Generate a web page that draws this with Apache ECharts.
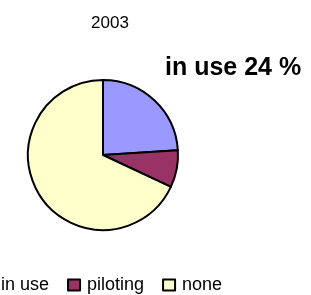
<!DOCTYPE html>
<html>
<head>
<meta charset="utf-8">
<script src="https://cdn.jsdelivr.net/npm/echarts@6/dist/echarts.min.js"></script>
<style>
  html, body { margin: 0; padding: 0; background: #fff; }
  #chart { width: 311px; height: 295px; }
</style>
</head>
<body>
<div id="chart"></div>
<script>
// 数据
var categories = ['in use', 'piloting', 'none'];
var shares = [24, 8, 68];
var colors = ['#9999FF', '#993366', '#FFFFCC'];
var year = '2003';

var myChart = echarts.init(document.getElementById('chart'));

var pieData = [];
for (var i = 0; i < categories.length; i++) {
    pieData.push({ name: categories[i], value: shares[i], itemStyle: { color: colors[i] } });
}

var option = {
    animation: false,
    title: [
        {
            text: year,
            left: 105,
            top: 10,
            textAlign: 'center',
            textStyle: { fontFamily: 'Liberation Sans', fontSize: 17, fontWeight: 'normal', color: '#000' }
        },
        {
            text: categories[0] + ' ' + shares[0] + ' %',
            left: 165,
            top: 56,
            padding: 0,
            textStyle: { fontFamily: 'Liberation Sans', fontSize: 25, fontWeight: 'bold', color: '#000' }
        }
    ],
    legend: {
        data: categories,
        left: -19,
        top: 276,
        padding: 0,
        itemWidth: 12,
        itemHeight: 11,
        itemGap: 18,
        icon: 'rect',
        itemStyle: { borderColor: '#000', borderWidth: 2 },
        textStyle: { fontFamily: 'Liberation Sans', fontSize: 18, color: '#000', padding: [0, 0, 0, 2] }
    },
    series: [
        {
            name: year,
            type: 'pie',
            center: [103, 155],
            radius: 75,
            startAngle: 90,
            clockwise: true,
            label: { show: false },
            labelLine: { show: false },
            emphasis: { disabled: true },
            itemStyle: { borderColor: '#000', borderWidth: 2 },
            data: pieData
        }
    ]
};

myChart.setOption(option);
</script>
</body>
</html>
